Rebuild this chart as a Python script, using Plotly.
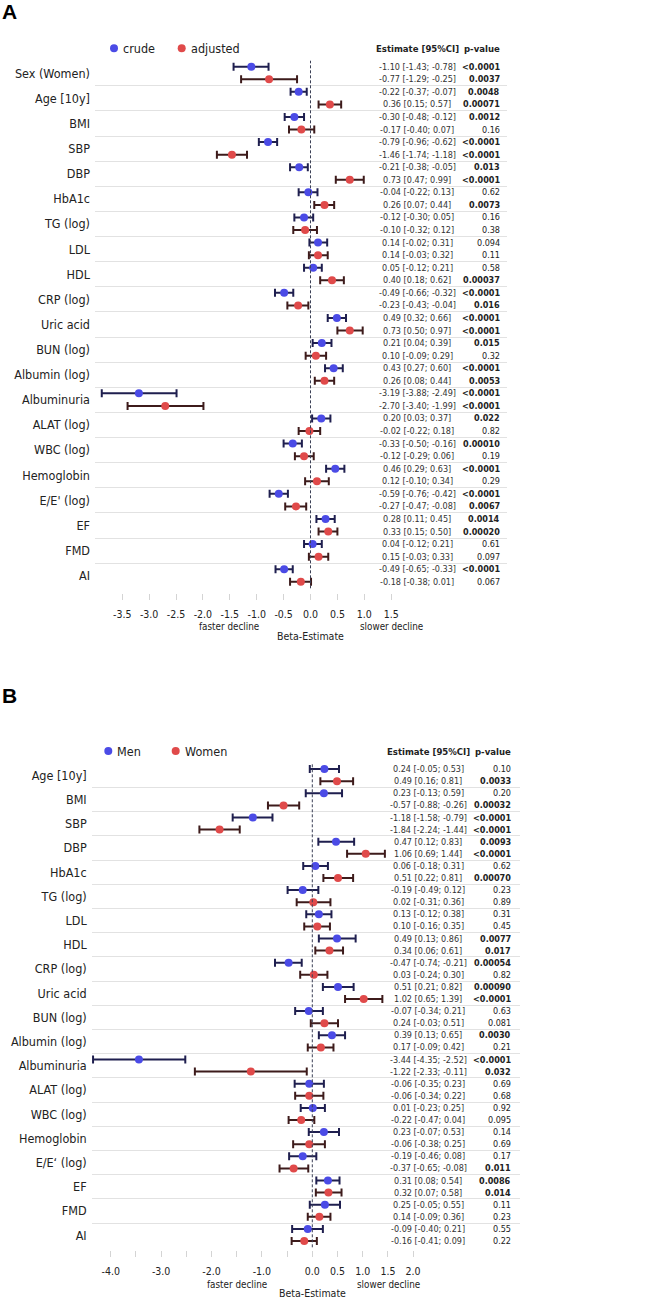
import plotly.graph_objects as go

W, H = 650, 1299

# ---- panel A: crude vs adjusted ----
labels_a = ["Sex (Women)", "Age [10y]", "BMI", "SBP", "DBP", "HbA1c", "TG (log)", "LDL", "HDL",
            "CRP (log)", "Uric acid", "BUN (log)", "Albumin (log)", "Albuminuria", "ALAT (log)",
            "WBC (log)", "Hemoglobin", "E/E' (log)", "EF", "FMD", "AI"]
crude_est = [-1.10, -0.22, -0.30, -0.79, -0.21, -0.04, -0.12, 0.14, 0.05, -0.49, 0.49, 0.21, 0.43,
             -3.19, 0.20, -0.33, 0.46, -0.59, 0.28, 0.04, -0.49]
crude_lo = [-1.43, -0.37, -0.48, -0.96, -0.38, -0.22, -0.30, -0.02, -0.12, -0.66, 0.32, 0.04, 0.27,
            -3.88, 0.03, -0.50, 0.29, -0.76, 0.11, -0.12, -0.65]
crude_hi = [-0.78, -0.07, -0.12, -0.62, -0.05, 0.13, 0.05, 0.31, 0.21, -0.32, 0.66, 0.39, 0.60,
            -2.49, 0.37, -0.16, 0.63, -0.42, 0.45, 0.21, -0.33]
crude_p = ["<0.0001", "0.0048", "0.0012", "<0.0001", "0.013", "0.62", "0.16", "0.094", "0.58",
           "<0.0001", "<0.0001", "0.015", "<0.0001", "<0.0001", "0.022", "0.00010", "<0.0001",
           "<0.0001", "0.0014", "0.61", "<0.0001"]
adj_est = [-0.77, 0.36, -0.17, -1.46, 0.73, 0.26, -0.10, 0.14, 0.40, -0.23, 0.73, 0.10, 0.26,
           -2.70, -0.02, -0.12, 0.12, -0.27, 0.33, 0.15, -0.18]
adj_lo = [-1.29, 0.15, -0.40, -1.74, 0.47, 0.07, -0.32, -0.03, 0.18, -0.43, 0.50, -0.09, 0.08,
          -3.40, -0.22, -0.29, -0.10, -0.47, 0.15, -0.03, -0.38]
adj_hi = [-0.25, 0.57, 0.07, -1.18, 0.99, 0.44, 0.12, 0.32, 0.62, -0.04, 0.97, 0.29, 0.44,
          -1.99, 0.18, 0.06, 0.34, -0.08, 0.50, 0.33, 0.01]
adj_p = ["0.0037", "0.00071", "0.16", "<0.0001", "<0.0001", "0.0073", "0.38", "0.11", "0.00037",
         "0.016", "<0.0001", "0.32", "0.0053", "<0.0001", "0.82", "0.19", "0.29", "0.0067",
         "0.00020", "0.097", "0.067"]
ticks_a = [-3.5, -3.0, -2.5, -2.0, -1.5, -1.0, -0.5, 0.0, 0.5, 1.0, 1.5]
ticktext_a = ["%.1f" % t for t in ticks_a]

# ---- panel B: men vs women ----
labels_b = ["Age [10y]", "BMI", "SBP", "DBP", "HbA1c", "TG (log)", "LDL", "HDL", "CRP (log)",
            "Uric acid", "BUN (log)", "Albumin (log)", "Albuminuria", "ALAT (log)", "WBC (log)",
            "Hemoglobin", "E/E\u2018 (log)", "EF", "FMD", "AI"]
men_est = [0.24, 0.23, -1.18, 0.47, 0.06, -0.19, 0.13, 0.49, -0.47, 0.51, -0.07, 0.39, -3.44,
           -0.06, 0.01, 0.23, -0.19, 0.31, 0.25, -0.09]
men_lo = [-0.05, -0.13, -1.58, 0.12, -0.18, -0.49, -0.12, 0.13, -0.74, 0.21, -0.34, 0.13, -4.35,
          -0.35, -0.23, -0.07, -0.46, 0.08, -0.05, -0.40]
men_hi = [0.53, 0.59, -0.79, 0.83, 0.31, 0.12, 0.38, 0.86, -0.21, 0.82, 0.21, 0.65, -2.52,
          0.23, 0.25, 0.53, 0.08, 0.54, 0.55, 0.21]
men_p = ["0.10", "0.20", "<0.0001", "0.0093", "0.62", "0.23", "0.31", "0.0077", "0.00054",
         "0.00090", "0.63", "0.0030", "<0.0001", "0.69", "0.92", "0.14", "0.17", "0.0086",
         "0.11", "0.55"]
women_est = [0.49, -0.57, -1.84, 1.06, 0.51, 0.02, 0.10, 0.34, 0.03, 1.02, 0.24, 0.17, -1.22,
             -0.06, -0.22, -0.06, -0.37, 0.32, 0.14, -0.16]
women_lo = [0.16, -0.88, -2.24, 0.69, 0.22, -0.31, -0.16, 0.06, -0.24, 0.65, -0.03, -0.09, -2.33,
            -0.34, -0.47, -0.38, -0.65, 0.07, -0.09, -0.41]
women_hi = [0.81, -0.26, -1.44, 1.44, 0.81, 0.36, 0.35, 0.61, 0.30, 1.39, 0.51, 0.42, -0.11,
            0.22, 0.04, 0.25, -0.08, 0.58, 0.36, 0.09]
women_p = ["0.0033", "0.00032", "<0.0001", "<0.0001", "0.00070", "0.89", "0.45", "0.017", "0.82",
           "<0.0001", "0.081", "0.21", "0.032", "0.68", "0.095", "0.69", "0.011", "0.014",
           "0.23", "0.22"]
ticks_b = [-4.0, -3.5, -3.0, -2.5, -2.0, -1.5, -1.0, -0.5, 0.0, 0.5, 1.0, 1.5, 2.0]
ticktext_b = ["%.1f" % t if (t >= 0 or t == int(t)) else "" for t in ticks_b]

BLUE, RED = "#4b4be6", "#e04a4a"
BLUE_BAR, RED_BAR = "#1f1f4f", "#3d1b1b"
FONT = "DejaVu Sans Condensed, Liberation Sans, Arial, sans-serif"
TXT = "#222222"


def px(x):
    return x / W


def py(y):
    return 1 - y / H


def pval(p):
    sig = p.startswith("<") or float(p) < 0.05
    return "<b>%s</b>" % p if sig else p


fig = go.Figure()
annotations = []
shapes = []


def panel(sfx, labels, series, names, ticks, ticktext, geo):
    n = len(labels)
    xa, ya = "x" + sfx, "y" + sfx
    for k, (est, lo, hi, pv) in enumerate(series):
        off = 0.24 if k == 0 else 0.74
        yy = [i + off for i in range(n)]
        fig.add_trace(go.Scatter(
            x=est, y=yy, mode="markers", xaxis=xa, yaxis=ya, showlegend=False,
            cliponaxis=False,
            marker=dict(color=[BLUE, RED][k], size=8),
            error_x=dict(type="data", symmetric=False,
                         array=[h - e for e, h in zip(est, hi)],
                         arrayminus=[e - l for e, l in zip(est, lo)],
                         color=[BLUE_BAR, RED_BAR][k], thickness=2, width=4)))
        for i in range(n):
            annotations.append(dict(
                x=px(geo["est_x"]), xref="paper", y=yy[i], yref=ya, xanchor="center",
                yanchor="middle", showarrow=False,
                text="%.2f [%.2f; %.2f]" % (est[i], lo[i], hi[i]),
                font=dict(size=9, color="#333333")))
            annotations.append(dict(
                x=px(geo["p_x"]), xref="paper", y=yy[i], yref=ya, xanchor="right",
                yanchor="middle", showarrow=False, text=pval(pv[i]),
                font=dict(size=9, color="#222222")))
    x0, sc, left, right = geo["x0"], geo["scale"], geo["left"], geo["right"]
    axx = dict(domain=[px(left), px(right)], range=[(left - x0) / sc, (right - x0) / sc],
               anchor="free", position=py(geo["tick_y"]), showgrid=False, zeroline=False,
               showline=False, tickmode="array", tickvals=ticks, ticktext=ticktext,
               ticks="outside", ticklen=6, tickcolor="#d4d4d4", tickwidth=1,
               ticklabelstandoff=geo["standoff"], tickfont=dict(size=10.5, color=TXT))
    axy = dict(domain=[py(geo["bottom"]), py(geo["top"])], range=[n, 0], anchor=xa,
               tickmode="array", tickvals=[i + 0.5 for i in range(n)], ticktext=labels,
               showgrid=False, zeroline=False, showline=False, ticks="",
               ticklabelstandoff=4, tickfont=dict(size=12.5, color=TXT),
               minor=dict(tickmode="array", tickvals=list(range(n + 1)), showgrid=True,
                          gridcolor="#e2e2e2", gridwidth=1))
    fig.update_layout(**{"xaxis" + sfx: axx, "yaxis" + sfx: axy})
    shapes.append(dict(type="line", xref=xa, yref=ya + " domain", x0=0, x1=0, y0=0, y1=1,
                       line=dict(color="#3a3f55", width=1, dash="3px,2px")))
    # legend
    for k, name in enumerate(names):
        cx = geo["leg_x"][k]
        cy = geo["head_y"]
        shapes.append(dict(type="circle", xref="paper", yref="paper",
                           x0=px(cx - 4), x1=px(cx + 4), y0=py(cy + 4), y1=py(cy - 4),
                           fillcolor=[BLUE, RED][k], line=dict(width=0)))
        annotations.append(dict(x=px(cx + 7), xref="paper", y=py(cy), yref="paper",
                                xanchor="left", yanchor="middle", showarrow=False, text=name,
                                font=dict(size=12.5, color=TXT)))
    annotations.append(dict(x=px(geo["est_x"]), xref="paper", y=py(geo["head_y"]), yref="paper",
                            xanchor="center", yanchor="middle", showarrow=False,
                            text="<b>Estimate [95%CI]</b>", font=dict(size=9.5, color=TXT)))
    annotations.append(dict(x=px(geo["p_x"]), xref="paper", y=py(geo["head_y"]), yref="paper",
                            xanchor="right", yanchor="middle", showarrow=False,
                            text="<b>p-value</b>", font=dict(size=9.5, color=TXT)))
    for txt, xx, yy, sz in [("faster decline", geo["faster_x"], geo["dec_y"], 9.8),
                            ("slower decline", geo["slower_x"], geo["dec_y"], 9.8),
                            ("Beta-Estimate", x0, geo["beta_y"], 10.5)]:
        annotations.append(dict(x=px(xx), xref="paper", y=py(yy), yref="paper",
                                xanchor="center", yanchor="middle", showarrow=False,
                                text=txt, font=dict(size=sz, color=TXT)))
    annotations.append(dict(x=0, xref="paper", y=py(geo["panel_y"]), yref="paper",
                            xanchor="left", yanchor="middle", showarrow=False,
                            text="<b>%s</b>" % geo["panel"],
                            font=dict(size=21, color="#000000",
                                      family="Liberation Sans, Arial, sans-serif")))


panel("", labels_a,
      [(crude_est, crude_lo, crude_hi, crude_p), (adj_est, adj_lo, adj_hi, adj_p)],
      ["crude", "adjusted"], ticks_a, ticktext_a,
      dict(x0=310.5, scale=53.8, left=95, right=507, top=60.7, bottom=588.3, tick_y=593,
           standoff=5, est_x=417, p_x=502, head_y=48.3, leg_x=[114, 181.7],
           faster_x=229.3, slower_x=391.7, dec_y=626.7, beta_y=635.7, panel="A", panel_y=12))
panel("2", labels_b,
      [(men_est, men_lo, men_hi, men_p), (women_est, women_lo, women_hi, women_p)],
      ["Men", "Women"], ticks_b, ticktext_b,
      dict(x0=312.3, scale=50.4, left=91.7, right=520, top=763.3, bottom=1247.3, tick_y=1250,
           standoff=5, est_x=428.5, p_x=513, head_y=751, leg_x=[108.3, 175.7],
           faster_x=237.3, slower_x=388.3, dec_y=1284, beta_y=1293.3, panel="B", panel_y=695))

fig.update_layout(width=W, height=H, margin=dict(l=0, r=0, t=0, b=0),
                  paper_bgcolor="white", plot_bgcolor="white",
                  font=dict(family=FONT, color=TXT),
                  annotations=annotations, shapes=shapes, showlegend=False)
# drop the browser's default 8px body margin so the figure sits at the page corner
fig.write_html("out.html", config={"displayModeBar": False},
               post_script="document.body.style.margin='0';")
